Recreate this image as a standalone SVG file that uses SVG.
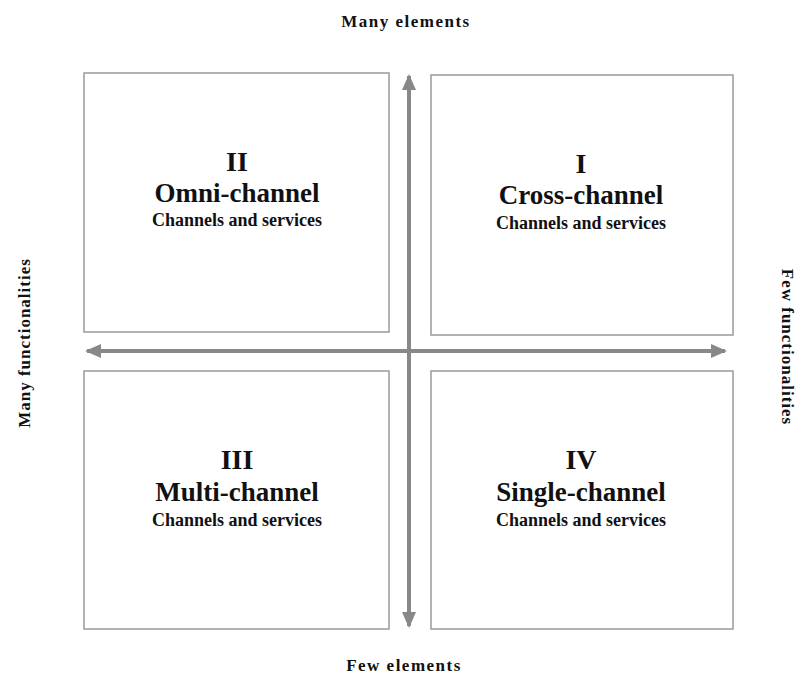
<svg xmlns="http://www.w3.org/2000/svg" width="796" height="675" viewBox="0 0 796 675">
<style>
.box{fill:#fff;stroke:#9a9a9a;stroke-width:1.5}
.t{font-family:"Liberation Serif","Times New Roman",serif;font-weight:bold;fill:#111;text-anchor:middle}
.num{font-size:28px}
.name{font-size:27px}
.sub{font-size:18px}
.ax{font-size:17px;letter-spacing:1.5px}
.sx{font-size:17px;letter-spacing:1px}
.axis{stroke:#888;stroke-width:4;fill:none}
</style>
<defs>
<marker id="ah" markerUnits="userSpaceOnUse" markerWidth="16" markerHeight="14" refX="14" refY="7" orient="auto-start-reverse">
<path d="M0,0 L16,7 L0,14 Z" fill="#888"/>
</marker>
</defs>
<rect width="796" height="675" fill="#fff"/>
<g id="q2">
<rect class="box" x="84" y="73" width="305" height="259"/>
<text class="t num" x="237" y="171">II</text>
<text class="t name" x="237" y="202">Omni-channel</text>
<text class="t sub" x="237" y="226">Channels and services</text>
</g>
<g id="q1">
<rect class="box" x="431" y="75" width="302" height="260"/>
<text class="t num" x="581" y="173">I</text>
<text class="t name" x="581" y="204">Cross-channel</text>
<text class="t sub" x="581" y="229">Channels and services</text>
</g>
<g id="q3">
<rect class="box" x="84" y="371" width="305" height="258"/>
<text class="t num" x="237" y="469">III</text>
<text class="t name" x="237" y="501">Multi-channel</text>
<text class="t sub" x="237" y="526">Channels and services</text>
</g>
<g id="q4">
<rect class="box" x="431" y="371" width="302" height="258"/>
<text class="t num" x="581" y="469">IV</text>
<text class="t name" x="581" y="501">Single-channel</text>
<text class="t sub" x="581" y="526">Channels and services</text>
</g>
<g id="connectors">
<line class="axis" x1="409" y1="626" x2="409" y2="76" marker-start="url(#ah)" marker-end="url(#ah)"/>
<line class="axis" x1="87" y1="351" x2="725" y2="351" marker-start="url(#ah)" marker-end="url(#ah)"/>
</g>
<g id="labels">
<text class="t ax" x="406" y="27">Many elements</text>
<text class="t ax" x="404" y="671">Few elements</text>
<text class="t sx" transform="translate(30,343) rotate(-90)">Many functionalities</text>
<text class="t sx" transform="translate(782,347) rotate(90)">Few functionalities</text>
</g>
</svg>
